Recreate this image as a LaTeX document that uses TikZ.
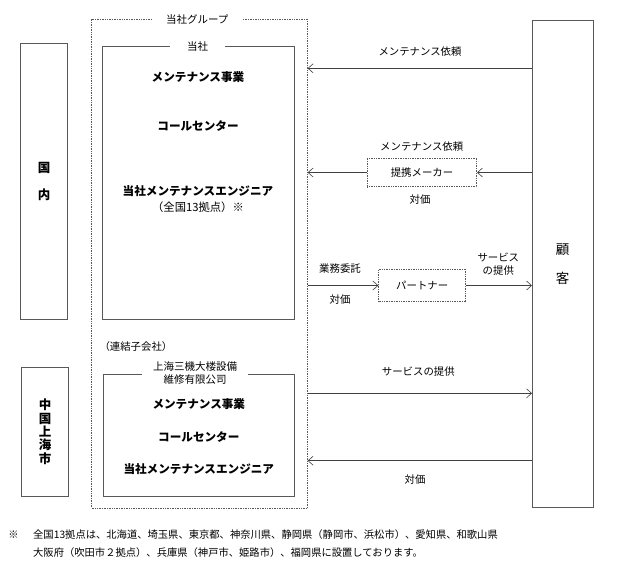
\documentclass[tikz,border=0pt]{standalone}
\usepackage{fontspec}
\newfontfamily\jp{Noto Sans CJK JP}
\usetikzlibrary{arrows.meta}
\tikzset{
  box/.style={draw=black!65, line width=0.6pt, inner sep=0pt},
  dotbox/.style={draw=black!65, densely dotted, line width=0.7pt, inner sep=0pt},
  title/.style={fill=white, font=\jp\fontsize{10.5}{12.6}\selectfont, inner ysep=0.5pt, align=center},
  lbl/.style={font=\jp\fontsize{10.4}{13.4}\selectfont, align=center},
  item/.style={font=\jp\bfseries\fontsize{11.6}{14}\selectfont},
  arr/.style={draw=black!75, line width=0.6pt, -{Straight Barb[length=5pt,width=9pt]}},
}
\begin{document}
\begin{tikzpicture}[x=1pt,y=-1pt]
         \useasboundingbox (0,0) rectangle (624,574);

         \pgfmathsetmacro{\yReqA}{68.3}
         \pgfmathsetmacro{\yServ}{393.3}
         \pgfmathsetmacro{\yPay}{460.7}
         \coordinate (rowA) at (0,\yReqA);
         \coordinate (rowS) at (0,\yServ);
         \coordinate (rowP) at (0,\yPay);

         \node[box, minimum width=47pt, minimum height=276pt] (domestic) at (44.2,181) {};
         \node[item, font=\jp\bfseries\fontsize{12.5}{26.7}\selectfont, align=center] (domesticname) at (44.2,181.7) {国\\内};

         \node[box, minimum width=47.4pt, minimum height=129.4pt] (shanghai) at (45,432) {};
         \node[item, font=\jp\bfseries\fontsize{12.5}{13.3}\selectfont, align=center] (shanghainame) at (45,431.7) {中\\国\\上\\海\\市};

         \node[dotbox, minimum width=215.6pt, minimum height=489pt] (group) at (199.5,263.5) {};
         \node[title, inner xsep=14pt] (grouptitle) at (197.3,19.5) {当社グループ};

         \node[box, minimum width=191.7pt, minimum height=272.3pt] (company) at (198.2,182.8) {};
         \node[title, inner xsep=17pt] (companytitle) at (197.5,46.7) {当社};
         \node[item] (compA) at (198,77) {メンテナンス事業};
         \node[item] (compB) at (198,125.7) {コールセンター};
         \node[item] (compC) at (198,190.7) {当社メンテナンスエンジニア};
         \node[lbl, font=\jp\fontsize{11.3}{13}\selectfont] (compD) at (198,207.3) {（全国13拠点）※};

         \node[lbl, anchor=west] (consol) at (96,346.7) {（連結子会社）};
         \node[box, minimum width=191.7pt, minimum height=122pt] (subsid) at (198.8,435.7) {};
         \node[title, inner xsep=11pt] (subsidtitle) at (195,373) {上海三機大楼設備\\維修有限公司};
         \node[item] (subA) at (198.8,404) {メンテナンス事業};
         \node[item] (subB) at (198.8,436.7) {コールセンター};
         \node[item] (subC) at (198.8,469) {当社メンテナンスエンジニア};

         \node[box, minimum width=61pt, minimum height=486.6pt] (customer) at (562.8,264) {};
         \node[lbl, font=\jp\fontsize{13.5}{28.3}\selectfont] (customername) at (562.5,264.2) {顧\\客};

         \node[dotbox, lbl, minimum width=109.4pt, minimum height=28.4pt] (maker) at (422,172.5) {提携メーカー};
         \node[dotbox, lbl, minimum width=87pt, minimum height=32.4pt] (partner) at (422.2,285.5) {パートナー};

         \draw[arr] (customer.west |- rowA) -- (group.east |- rowA);
         \node[lbl] (reqA) at (420,51.7) {メンテナンス依頼};

         \draw[arr] (customer.west |- maker.east) -- (maker.east);
         \draw[arr] (maker.west) -- (group.east |- maker.west);
         \node[lbl] (reqB) at (421.7,146.7) {メンテナンス依頼};
         \node[lbl] (payB) at (420,199.3) {対価};

         \draw[arr] (group.east |- partner.west) -- (partner.west);
         \draw[arr] (partner.east) -- (customer.west |- partner.east);
         \node[lbl] (outsrc) at (340,268.3) {業務委託};
         \node[lbl] (payC) at (340,300) {対価};
         \node[lbl] (servC) at (498.3,264) {サービス\\の提供};

         \draw[arr] (group.east |- rowS) -- (customer.west |- rowS);
         \node[lbl] (serv) at (418.3,371.7) {サービスの提供};

         \draw[arr] (customer.west |- rowP) -- (group.east |- rowP);
         \node[lbl] (pay) at (415,480) {対価};

         \node[lbl, font=\jp\fontsize{10.3}{12}\selectfont] (mark) at (13.5,535) {※};
         \node[lbl, font=\jp\fontsize{10.3}{12}\selectfont, anchor=west, inner xsep=0pt] (noteA) at (33,535) {全国13拠点は、北海道、埼玉県、東京都、神奈川県、静岡県（静岡市、浜松市）、愛知県、和歌山県};
         \node[lbl, font=\jp\fontsize{10.3}{12}\selectfont, anchor=west, inner xsep=0pt] (noteB) at (33,553) {大阪府（吹田市２拠点）、兵庫県（神戸市、姫路市）、福岡県に設置しております。};
      \end{tikzpicture}
\end{document}
